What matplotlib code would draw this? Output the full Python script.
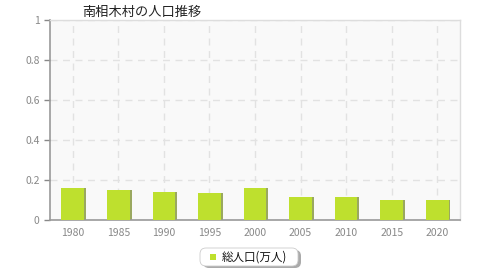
import matplotlib

matplotlib.use("Agg")
import matplotlib.pyplot as plt
from matplotlib.patches import FancyBboxPatch, Rectangle

plt.rcParams["font.family"] = ["Noto Sans CJK JP", "DejaVu Sans"]

# population (10k people)
years = ["1980", "1985", "1990", "1995", "2000", "2005", "2010", "2015", "2020"]
population = [0.160, 0.148, 0.138, 0.135, 0.160, 0.117, 0.115, 0.102, 0.098]
y_ticks = [0, 0.2, 0.4, 0.6, 0.8, 1]
y_labels = ["0", "0.2", "0.4", "0.6", "0.8", "1"]

title = "南相木村の人口推移"
series_name = "総人口(万人)"

BAR = "#bee02e"
SHADOW = "#9aa860"
TICK = "#888888"

fig = plt.figure(figsize=(4.8, 2.8), dpi=100)
ax = fig.add_axes([50 / 480, 60 / 280, 410 / 480, 200 / 280])
ax.set_facecolor("#f9f9f9")

xs = range(len(years))
# slight shadow to the right of each bar
ax.bar([x + 0.04 for x in xs], population, width=0.5, color=SHADOW, zorder=2)
ax.bar(xs, population, width=0.5, color=BAR, zorder=3)

ax.set_xlim(-0.5, len(years) - 0.5)
ax.set_ylim(0, 1)
ax.set_xticks(list(xs))
ax.set_xticklabels(years)
ax.set_yticks(y_ticks)
ax.set_yticklabels(y_labels)
ax.tick_params(colors=TICK, labelsize=7.5, length=4, width=1)
ax.tick_params(axis="x", length=0, pad=6)
ax.grid(True, color="#e2e2e2", ls=(0, (5, 4)), lw=1, zorder=0)

for s in ("left", "bottom"):
    ax.spines[s].set_color("#999999")
    ax.spines[s].set_linewidth(1.2)
for s in ("top", "right"):
    ax.spines[s].set_color("#dddddd")
    ax.spines[s].set_linewidth(1)

fig.text(82 / 480, 1 - 12 / 280, title, fontsize=9.5, color="#222222", va="center", ha="left")

# legend box with a soft shadow, drawn in figure pixels
shadow = FancyBboxPatch((203, 12), 98, 18, boxstyle="round,pad=0,rounding_size=6",
                        transform=None, fc="#aaaaaa", ec="none")
box = FancyBboxPatch((200, 14), 98, 18, boxstyle="round,pad=0,rounding_size=6",
                     transform=None, fc="white", ec="#cccccc", lw=0.6)
fig.patches.extend([shadow, box])
fig.patches.append(Rectangle((210, 20), 6, 6, transform=None, fc=BAR, ec="none"))
fig.text(222 / 480, 23 / 280, series_name, fontsize=8.3, color="#111111", va="center", ha="left")

fig.savefig("out.png", dpi=100)
